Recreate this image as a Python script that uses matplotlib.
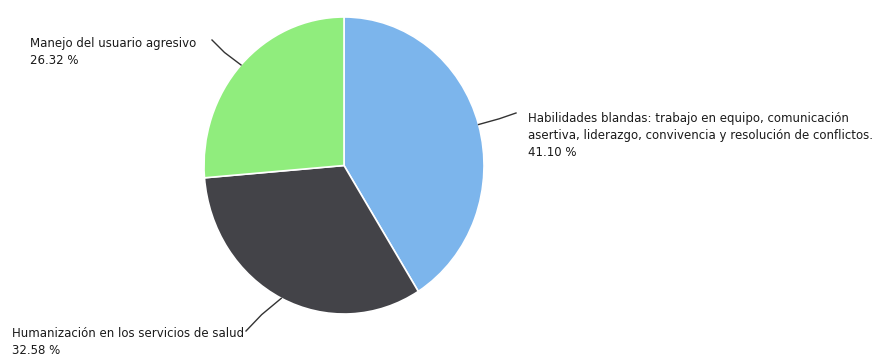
import numpy as np
import matplotlib.pyplot as plt

W, H = 875, 356

labels = [
    "Habilidades blandas: trabajo en equipo, comunicación\nasertiva, liderazgo, convivencia y resolución de conflictos.",
    "Humanización en los servicios de salud",
    "Manejo del usuario agresivo",
]
values = [41.10, 32.58, 26.32]
colors = ["#7cb5ec", "#434348", "#90ed7d"]

# layout in pixels (y measured from the top)
center = (344, 165.5)
radius = 140
sy = 148.5 / 140  # the reference pie is slightly taller than wide
label_pos = [(528, 112), (12, 327), (30, 37)]
line_end = [(516, 113), (246, 331), (212, 40)]

fig = plt.figure(figsize=(W / 100, H / 100), dpi=100)
ax = fig.add_axes([0, 0, 1, 1])


def to_data(x, y):
    return x, (H - y) / sy


cx, cy = to_data(*center)
wedges, _ = ax.pie(values, colors=colors, startangle=90, counterclock=False,
                   center=(cx, cy), radius=radius,
                   wedgeprops=dict(edgecolor="white", linewidth=1.2))
ax.set_aspect("auto")
ax.set_xlim(0, W)
ax.set_ylim(0, H / sy)
ax.axis("off")

for w, lab, val, lp, le in zip(wedges, labels, values, label_pos, line_end):
    ang = np.deg2rad((w.theta1 + w.theta2) / 2)
    px = cx + radius * np.cos(ang)
    py = cy + radius * np.sin(ang)
    ex, ey = to_data(*le)
    mx = (px + ex) / 2 + (2 if ex > cx else -2)
    my = (py + ey) / 2
    ax.plot([px, mx, ex], [py, my, ey], color="#333333", lw=1.0)
    tx, ty = to_data(*lp)
    ax.text(tx, ty, f"{lab}\n{val:.2f} %", ha="left", va="top",
            fontsize=8.5, color="#1a1a1a", linespacing=1.4,
            family="DejaVu Sans")

fig.savefig("out.png", dpi=100)
